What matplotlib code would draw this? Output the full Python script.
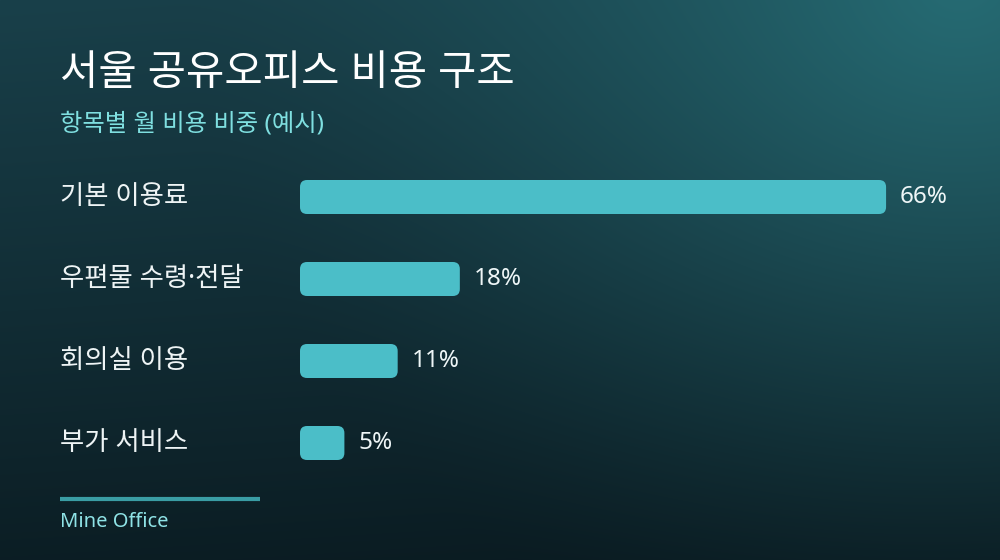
import numpy as np
import matplotlib
matplotlib.use("Agg")
import matplotlib.pyplot as plt
from matplotlib.patches import FancyBboxPatch
import matplotlib.transforms as mtransforms

plt.rcParams['font.family'] = ['Noto Sans', 'Noto Sans CJK KR', 'DejaVu Sans']

# ---- data ----
title = "서울 공유오피스 비용 구조"
subtitle = "항목별 월 비용 비중 (예시)"
categories = ["기본 이용료", "우편물 수령·전달", "회의실 이용", "부가 서비스"]
values = [66, 18, 11, 5]
value_labels = ["66%", "18%", "11%", "5%"]
source = "Mine Office"

W, H = 1000, 560
fig = plt.figure(figsize=(W / 100, H / 100), dpi=100)

# ---- background ----
bg = fig.add_axes([0, 0, 1, 1])
yy, xx = np.mgrid[0:H, 0:W].astype(float)
dark = np.array([10, 26, 32]) / 255.0
mid = np.array([25, 64, 74]) / 255.0
glow = np.array([38, 108, 116]) / 255.0
t = np.clip(1 - (yy / H) * 0.9 - (xx / W) * 0.1, 0, 1)
img = dark[None, None, :] * (1 - t[..., None]) + mid[None, None, :] * t[..., None]
d = np.sqrt((xx - 960) ** 2 + ((yy + 20) * 1.1) ** 2)
g = np.clip(1 - d / 780, 0, 1) ** 1.5
img = img * (1 - g[..., None]) + glow[None, None, :] * g[..., None]
bg.imshow(img, extent=[0, W, H, 0], aspect='auto', interpolation='bilinear')
bg.set_xlim(0, W)
bg.set_ylim(H, 0)
bg.axis('off')

# ---- bars ----
ax = fig.add_axes([0.3, 0, 0.7, 1])
px_per_unit = 8.88
ax.set_xlim(0, 700 / px_per_unit)
row_px = 82
first_px = 197
ax.set_ylim((H - first_px) / row_px, -first_px / row_px)
ax.patch.set_alpha(0)
ax.axis('off')

bar_h = 34 / row_px
ypos = np.arange(len(categories))
bars = ax.barh(ypos, values, height=bar_h, color='#4bbec8')
rx = 7 / px_per_unit
ry = 7 / row_px
for b in bars:
    x0, y0 = b.get_x(), b.get_y()
    w, h = b.get_width(), b.get_height()
    b.set_visible(False)
    p = FancyBboxPatch((x0, y0), w, h,
                       boxstyle=f"round,pad=0,rounding_size={rx}",
                       mutation_aspect=ry / rx,
                       facecolor='#4bbec8', edgecolor='none')
    ax.add_patch(p)

off = 14 / px_per_unit
for i, (v, lab) in enumerate(zip(values, value_labels)):
    ax.text(v + off, i, lab, va='center', ha='left', fontsize=17.5,
            color='#eef6f7')

trans = mtransforms.blended_transform_factory(fig.transFigure, ax.transData)
for i, c in enumerate(categories):
    ax.text(60 / W, i, c, transform=trans, va='center', ha='left',
            fontsize=19, color='#eef4f5')

# ---- titles ----
fig.text(60 / W, 1 - 74 / H, title, va='center', ha='left', fontsize=30,
         color='#ffffff', fontweight='medium')
fig.text(60 / W, 1 - 125 / H, subtitle, va='center', ha='left', fontsize=17.5,
         color='#7fdfe0')

# ---- footer ----
bg.plot([60, 260], [499, 499], color='#3a9da4', lw=3, solid_capstyle='butt')
fig.text(60 / W, 1 - 522 / H, source, va='center', ha='left', fontsize=14.5,
         color='#8fe3e6')

fig.savefig("out.png", dpi=100)
